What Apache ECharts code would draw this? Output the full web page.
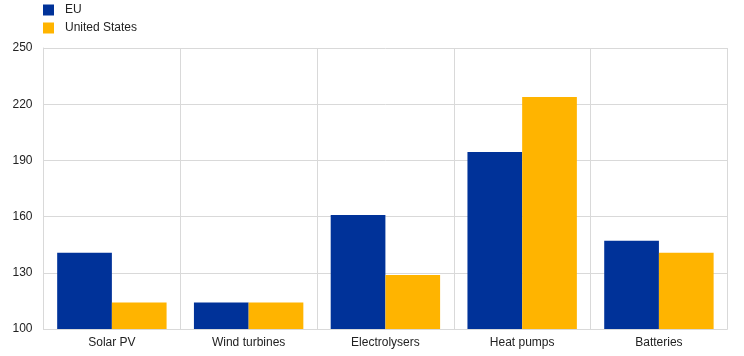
<!DOCTYPE html>
<html>
<head>
<meta charset="utf-8">
<script src="https://cdn.jsdelivr.net/npm/echarts@6/dist/echarts.min.js"></script>
<style>html,body{margin:0;padding:0;background:#fff}#c{width:744px;height:356px}</style>
</head>
<body>
<div id="c"></div>
<script>
const categories = ["Solar PV", "Wind turbines", "Electrolysers", "Heat pumps", "Batteries"];
const euValues = [140.7, 114.1, 160.9, 194.5, 147.1];
const usValues = [114.1, 114.1, 128.8, 223.9, 140.7];
const seriesNames = ["EU", "United States"];
const yTicks = { min: 100, max: 250, interval: 30 };

const chart = echarts.init(document.getElementById('c'), null, { renderer: 'canvas' });
const font = 'Arial, "Liberation Sans", sans-serif';
chart.setOption({
  animation: false,
  backgroundColor: '#fff',
  legend: {
    orient: 'vertical',
    left: 43,
    top: 4,
    padding: 0,
    itemWidth: 11,
    itemHeight: 11,
    itemGap: 6,
    icon: 'rect',
    textStyle: { fontFamily: font, fontSize: 12, color: '#222', padding: [0, 0, 0, 6] },
    data: seriesNames
  },
  grid: { left: 43.5, right: 16.7, top: 48, bottom: 27, containLabel: false },
  xAxis: {
    type: 'category',
    data: categories,
    axisLine: { lineStyle: { color: '#d9d9d9', width: 1 } },
    axisTick: { show: false },
    splitLine: { show: true, lineStyle: { color: '#d9d9d9', width: 1 } },
    axisLabel: { fontFamily: font, fontSize: 12, color: '#222', margin: 8 }
  },
  yAxis: {
    type: 'value',
    min: yTicks.min,
    max: yTicks.max,
    interval: yTicks.interval,
    axisLine: { show: true, lineStyle: { color: '#d9d9d9', width: 1 } },
    axisTick: { show: false },
    splitLine: { show: true, lineStyle: { color: '#d9d9d9', width: 1 } },
    axisLabel: { fontFamily: font, fontSize: 12, color: '#222', margin: 11 }
  },
  series: [
    { name: seriesNames[0], type: 'bar', data: euValues, itemStyle: { color: '#003299' }, barGap: '0%', barCategoryGap: '20%' },
    { name: seriesNames[1], type: 'bar', data: usValues, itemStyle: { color: '#ffb400' }, barGap: '0%', barCategoryGap: '20%' }
  ]
});
</script>
</body>
</html>
